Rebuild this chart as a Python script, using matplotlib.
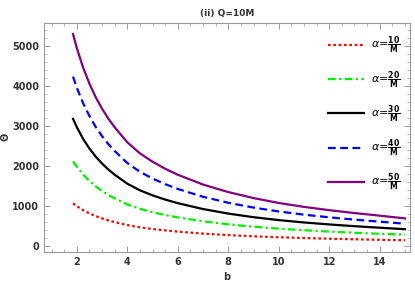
import matplotlib
matplotlib.use("Agg")
import matplotlib.pyplot as plt
from matplotlib.ticker import MultipleLocator

# values
b = [1.85, 2, 2.25, 2.5, 2.75, 3, 3.25, 3.5, 4, 4.5, 5, 5.5, 6, 7, 8, 9, 10, 11, 12, 13, 14, 15]
theta_10 = [1060, 990, 890, 810, 742, 685, 635, 592, 517, 462, 420, 385, 355, 305, 268, 238, 214, 194, 178, 163, 150, 139]
theta_20 = [2110, 1980, 1780, 1620, 1484, 1370, 1270, 1184, 1034, 924, 840, 770, 710, 612, 537, 477, 428, 389, 356, 327, 300, 280]
theta_30 = [3170, 2965, 2670, 2430, 2225, 2055, 1905, 1776, 1551, 1386, 1260, 1155, 1065, 918, 805, 715, 642, 583, 534, 490, 452, 415]
theta_40 = [4225, 3950, 3560, 3240, 2968, 2740, 2540, 2368, 2068, 1848, 1680, 1540, 1420, 1225, 1075, 955, 858, 778, 712, 655, 603, 552]
theta_50 = [5290, 4940, 4450, 4050, 3710, 3425, 3175, 2960, 2585, 2310, 2100, 1925, 1775, 1530, 1342, 1192, 1070, 972, 890, 818, 753, 685]
labels = ["10", "20", "30", "40", "50"]

series = [theta_10, theta_20, theta_30, theta_40, theta_50]
colors = ["#ff0000", "#00ee00", "#000000", "#0000ff", "#800080"]
styles = [(0, (1.2, 1.2)), (0, (3.5, 1.5, 1, 1.5)), "-", (0, (3.5, 2)), "-"]

fig = plt.figure(figsize=(4.15, 2.82), dpi=100)
ax = fig.add_axes([0.106, 0.107, 0.882, 0.813])

for ys, c, ls, lab in zip(series, colors, styles, labels):
    ax.plot(b, ys, color=c, ls=ls, lw=1.6, solid_joinstyle="round",
            label=r"$\alpha$=$\frac{\mathbf{%s}}{\mathbf{M}}$" % lab)

ax.set_xlim(0.7, 15.2)
ax.set_ylim(-150, 5575)
ax.xaxis.set_major_locator(MultipleLocator(2))
ax.xaxis.set_minor_locator(MultipleLocator(0.5))
ax.yaxis.set_major_locator(MultipleLocator(1000))
ax.yaxis.set_minor_locator(MultipleLocator(200))

gray = "#999999"
for sp in ax.spines.values():
    sp.set_color(gray)
    sp.set_linewidth(0.8)
ax.tick_params(which="both", direction="in", top=True, right=True, color=gray)
ax.tick_params(which="major", length=4, width=0.7, labelsize=7, labelcolor="#333333")
ax.tick_params(which="minor", length=2, width=0.5)
for t in ax.get_xticklabels() + ax.get_yticklabels():
    t.set_fontweight("bold")

ax.set_title("(ii) Q=10M", fontsize=6.5, fontweight="bold", color="#333333", pad=5)
ax.set_xlabel("b", fontsize=7, fontweight="bold", color="#333333")
ax.set_ylabel("Θ", fontsize=7, fontweight="bold", color="#333333")
ax.yaxis.set_label_coords(-0.092, 0.5)

leg = ax.legend(loc="upper right", bbox_to_anchor=(1.0, 0.99), frameon=False,
                fontsize=8, handlelength=3.2, labelspacing=1.15, handletextpad=0.6)

fig.savefig("out.png", dpi=100)
